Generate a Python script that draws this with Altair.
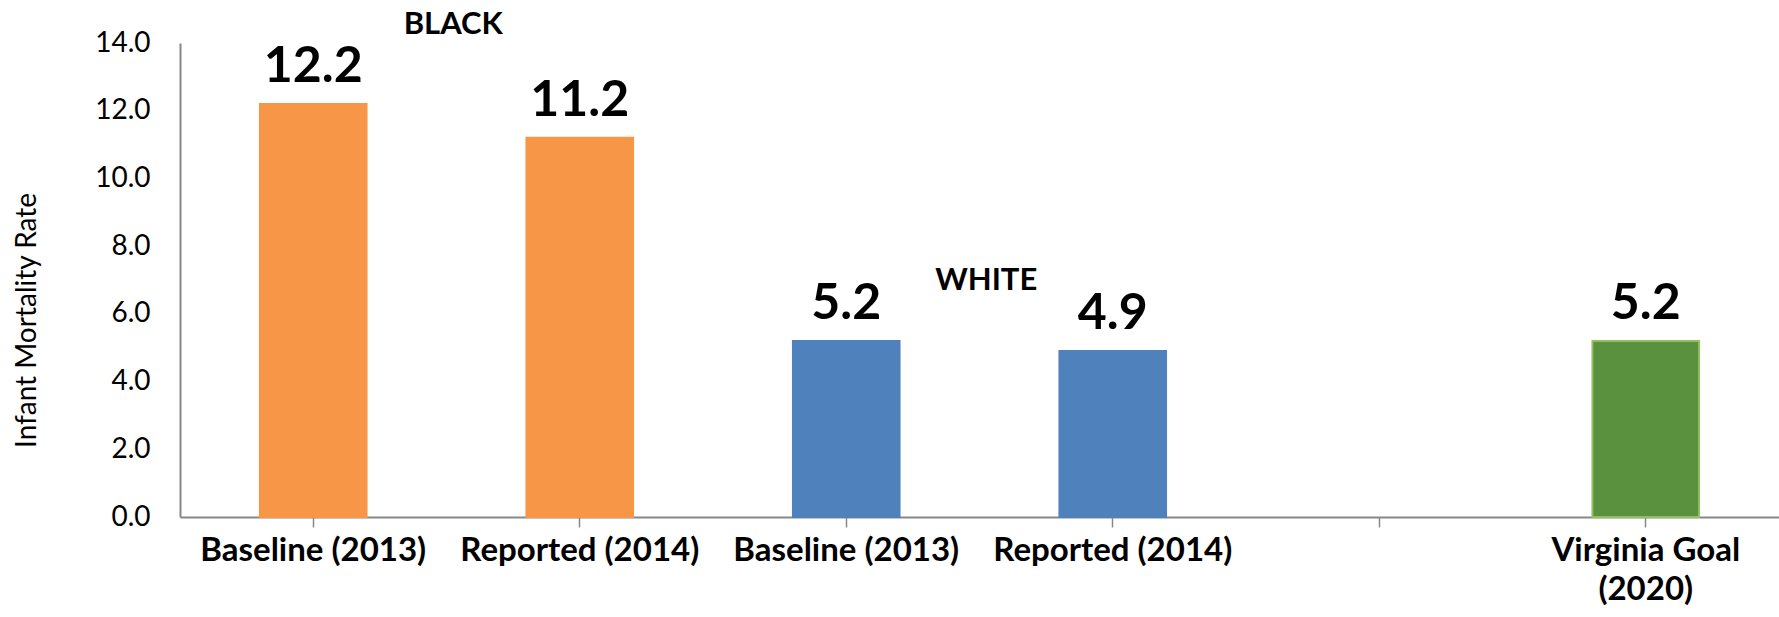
import altair as alt
import pandas as pd

# ---- data ----
categories = ["Baseline (2013)", "Reported  (2014)", "Baseline (2013) ", "Reported (2014)", " ", "Virginia Goal (2020)"]
values = [12.2, 11.2, 5.2, 4.9, None, 5.2]
groups = ["Black", "Black", "White", "White", None, "Goal"]

group_names = ["Black", "White", "Goal"]
group_fill = ["#F79646", "#4F81BD", "#5A913F"]
group_stroke = ["#F79646", "#4F81BD", "#92C05E"]

note_text = ["BLACK", "WHITE"]
note_cat = ["Baseline (2013)", "Baseline (2013) "]
note_y = [14.53, 6.97]

y_ticks = [0, 2, 4, 6, 8, 10, 12, 14]

df = pd.DataFrame({"cat": categories, "val": values, "grp": groups}).dropna()
notes = pd.DataFrame({"text": note_text, "cat": note_cat, "y": note_y})

FONT = "Lato"

x_enc = alt.X(
    "cat:N",
    sort=categories,
    scale=alt.Scale(domain=categories, paddingInner=0.6, paddingOuter=0.3),
    axis=alt.Axis(
        title=None,
        labelAngle=0,
        labelFont=FONT,
        labelFontWeight="bold",
        labelFontSize=33,
        labelColor="#000000",
        labelPadding=7,
        labelLineHeight=39,
        labelLimit=0,
        labelExpr="datum.value == 'Virginia Goal (2020)' ? ['Virginia Goal', '(2020)'] : datum.value",
        domainColor="#888888",
        domainWidth=2,
        tickColor="#888888",
        tickWidth=1.5,
        tickSize=10,
        grid=False,
    ),
)

y_scale = alt.Scale(domain=[0, 14], nice=False)

bars = alt.Chart(df).mark_bar(strokeWidth=2).encode(
    x=x_enc,
    y=alt.Y(
        "val:Q",
        scale=y_scale,
        axis=alt.Axis(
            title="Infant Mortality Rate",
            values=y_ticks,
            format=".1f",
            labelFont=FONT,
            labelFontSize=28,
            labelColor="#000000",
            labelPadding=30,
            ticks=False,
            domainColor="#888888",
            domainWidth=2,
            grid=False,
            titleFont=FONT,
            titleFontSize=28,
            titleFontWeight="normal",
            titleColor="#000000",
            titleAngle=-90,
            titleAlign="center",
            titleBaseline="middle",
            titleX=-153,
            titleY=277,
        ),
    ),
    color=alt.Color("grp:N", scale=alt.Scale(domain=group_names, range=group_fill), legend=None),
    stroke=alt.Stroke("grp:N", scale=alt.Scale(domain=group_names, range=group_stroke), legend=None),
)

labels = alt.Chart(df).mark_text(
    font=FONT, fontWeight="bold", fontSize=50, color="#000000",
    baseline="alphabetic", align="center", dy=-22,
).encode(
    x=alt.X("cat:N", sort=categories),
    y=alt.Y("val:Q", scale=y_scale),
    text=alt.Text("val:Q", format=".1f"),
)

note_marks = alt.Chart(notes).mark_text(
    font=FONT, fontWeight="bold", fontSize=31, color="#000000",
    baseline="middle", align="center", dx=140,
).encode(
    x=alt.X("cat:N", sort=categories),
    y=alt.Y("y:Q", scale=y_scale),
    text="text:N",
)

chart = (
    alt.layer(bars, labels, note_marks)
    .properties(
        width=1599,
        height=474,
        autosize=alt.AutoSizeParams(type="none"),
        padding={"left": 180, "top": 43, "right": 0, "bottom": 100},
        background="#ffffff",
    )
    .configure_view(stroke=None)
)

chart.save("out.html", embed_options={"renderer": "svg", "actions": False})
